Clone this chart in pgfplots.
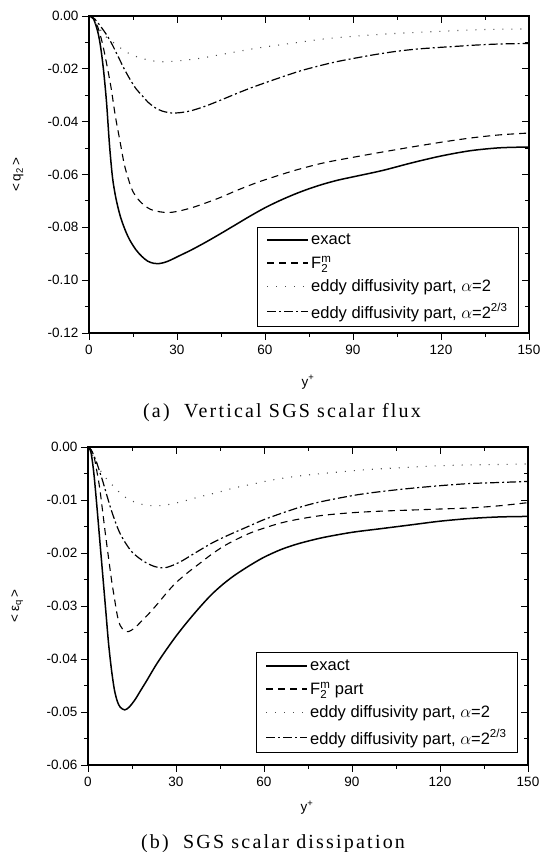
\documentclass[border=0pt]{standalone}
\usepackage{fontspec}
\setmainfont{Liberation Sans}
\setmathrm{Liberation Sans}
\newfontfamily\capfont[LetterSpace=11]{Liberation Serif}
\usepackage{pgfplots}
\pgfplotsset{compat=1.18}

\pgfplotsset{
  frame/.style={scale only axis, width=440pt, height=317pt, xmin=0, xmax=150,
    xtick={0,30,60,90,120,150}, minor x tick num=1, minor y tick num=1,
    scaled x ticks=false, scaled y ticks=false,
    axis line style={line width=1.2pt},
    major tick length=7pt, minor tick length=4pt,
    every tick/.style={black, line width=0.9pt}},
  lower/.style={frame, tick align=outside, xtick pos=left, ytick pos=left,
    tick label style={font=\fontsize{13.5}{13.5}\selectfont},
    /pgf/number format/assume math mode=true,
    yticklabel style={/pgf/number format/fixed, /pgf/number format/fixed zerofill, /pgf/number format/precision=2},
    xticklabel style={yshift=-2pt},
    label style={font=\fontsize{13.5}{13.5}\selectfont},
    legend image code/.code={\draw[##1] (0pt,0pt) -- (35pt,0pt); \path (0pt,0pt) -- (41pt,0pt);},
  },
  upper/.style={frame, tick align=inside, xtick pos=right, ytick pos=right, xticklabels={}, yticklabels={}},
  lgd/.style={legend style={at={(rel axis cs:0.977,#1)}, anchor=south east, draw=black, line width=0.7pt,
    fill=white, font=\fontsize{16.5}{16.5}\selectfont, cells={anchor=west}, row sep=6pt,
    inner xsep=9pt, inner ysep=5pt}},
  exact/.style={black, line width=1.5pt, smooth},
  fm/.style={black, line width=1.1pt, dash pattern=on 7pt off 5pt, smooth},
  edtwo/.style={black!70, line width=1.1pt, dash pattern=on 1pt off 8pt, smooth},
  edtt/.style={black, line width=1.2pt, dash pattern=on 9pt off 3pt on 2pt off 3pt, smooth},
}
\newcommand{\Fm}{$\mathrm{F}_{\mathrm{2}}^{\mathrm{m}}$}

\begin{document}
\begin{tikzpicture}
\path[use as bounding box] (0,0) rectangle (549pt,852pt);

% ---------------- (a) ----------------
\begin{axis}[lower, lgd=0.019, at={(89pt,519pt)}, anchor=south west,
  ymin=-0.12, ymax=0, ytick={-0.12,-0.1,-0.08,-0.06,-0.04,-0.02,0},
  xlabel={y\textsuperscript{+}}, ylabel={<\,q\textsubscript{2}\,>},
  xlabel style={at={(axis description cs:0.498,-0.155)}, anchor=center},
  ylabel style={at={(axis description cs:-0.161,0.5)}, anchor=center},
]
\addplot[exact] coordinates {
(0,0) (1.5,-0.001) (3,-0.006) (4,-0.012) (5,-0.021) (6,-0.033) (7,-0.049) (8,-0.061)
(9,-0.068) (10,-0.073) (11,-0.077) (12.5,-0.0815) (14,-0.085) (16,-0.0885) (18,-0.091)
(20,-0.0928) (22,-0.0936) (24,-0.0937) (26,-0.0932) (28,-0.0923) (30,-0.0912)
(35,-0.0885) (40,-0.0855) (45,-0.0823) (50,-0.0790) (55,-0.0757) (60,-0.0726)
(65,-0.0699) (70,-0.0675) (75,-0.0654) (80,-0.0636) (85,-0.0621) (90,-0.0609)
(100,-0.0585) (110,-0.0556) (120,-0.0530) (130,-0.0510) (140,-0.0499) (150,-0.0496)};
\addlegendentry{exact}
\addplot[fm] coordinates {
(0,0) (1.5,-0.001) (3,-0.0042) (4.5,-0.010) (6,-0.018) (7.5,-0.027) (9,-0.038)
(10.5,-0.047) (12,-0.056) (13.5,-0.062) (15,-0.0665) (17,-0.0697) (19,-0.0718)
(21,-0.0732) (24,-0.0741) (27,-0.0744) (30,-0.0740) (35,-0.0726) (40,-0.0707)
(45,-0.0686) (50,-0.0662) (55,-0.0640) (60,-0.0620) (70,-0.0585) (80,-0.0556)
(90,-0.0535) (100,-0.0515) (110,-0.0496) (120,-0.0478) (130,-0.0462) (140,-0.0450) (150,-0.0443)};
\addlegendentry{\Fm}
\addplot[edtwo] coordinates {
(0,0) (2,-0.0025) (3.5,-0.0045) (5,-0.0070) (7,-0.0090) (9.5,-0.0110) (12.5,-0.0135)
(16,-0.0153) (20,-0.0166) (24,-0.0173) (28,-0.0172) (33,-0.0167) (38,-0.0160)
(44,-0.0148) (50,-0.0136) (56,-0.0124) (62,-0.0114) (70,-0.0102) (80,-0.0087)
(90,-0.0077) (100,-0.0069) (110,-0.0063) (120,-0.0058) (130,-0.0053) (140,-0.0050) (150,-0.0049)};
\addlegendentry{eddy diffusivity part, $\alpha$=2}
\addplot[edtt] coordinates {
(0,0) (1,-0.0003) (2,-0.0012) (3,-0.0025) (4,-0.0040) (5,-0.0055) (6.5,-0.0080)
(8,-0.0110) (10,-0.0155) (12,-0.0200) (14,-0.0240) (16,-0.0275) (18,-0.0300)
(20,-0.0325) (22.5,-0.0347) (25,-0.0360) (28,-0.0367) (31,-0.0366) (35,-0.0358)
(40,-0.0340) (45,-0.0318) (50,-0.0295) (55,-0.0273) (60,-0.0253) (66,-0.0230)
(72,-0.0208) (78,-0.0190) (84,-0.0174) (90,-0.0161) (97,-0.0147) (104,-0.0135)
(111,-0.0126) (118,-0.0120) (125,-0.0115) (132,-0.0110) (140,-0.0106) (150,-0.0104)};
\addlegendentry{eddy diffusivity part, $\alpha$=2\textsuperscript{2/3}}
\end{axis}
\begin{axis}[upper, at={(89pt,519pt)}, anchor=south west,
  ymin=-0.12, ymax=0, ytick={-0.12,-0.1,-0.08,-0.06,-0.04,-0.02,0}]
\end{axis}
\node[anchor=base, font=\capfont\fontsize{20}{20}\selectfont] at (282pt,434pt) {(a)\ \ Vertical SGS scalar flux};

% ---------------- (b) ----------------
\begin{axis}[lower, lgd=0.038, at={(88pt,87pt)}, anchor=south west, height=318pt,
  ymin=-0.06, ymax=0, ytick={-0.06,-0.05,-0.04,-0.03,-0.02,-0.01,0},
  xlabel={y\textsuperscript{+}}, ylabel={<\,ε\textsubscript{q}\,>},
  xlabel style={at={(axis description cs:0.498,-0.135)}, anchor=center},
  ylabel style={at={(axis description cs:-0.161,0.5)}, anchor=center},
]
\addplot[exact] coordinates {
(0,0) (1,-0.001) (2,-0.005) (3,-0.011) (4,-0.0175) (5,-0.024) (6,-0.0305) (7,-0.037)
(8,-0.042) (9,-0.0458) (10,-0.048) (11,-0.0491) (12.5,-0.0496) (14,-0.0491) (16,-0.0477)
(18,-0.0459) (20,-0.0441) (23,-0.0413) (26,-0.0388) (30,-0.0357) (34,-0.0329)
(38,-0.0303) (42,-0.0279) (46,-0.0259) (50,-0.0242) (55,-0.0224) (60,-0.0208)
(66,-0.0193) (72,-0.0182) (80,-0.0171) (90,-0.0161) (100,-0.0154) (110,-0.0147)
(120,-0.0140) (130,-0.0135) (140,-0.0132) (150,-0.0131)};
\addlegendentry{exact}
\addplot[fm] coordinates {
(0,0) (1,-0.0005) (2,-0.0017) (3,-0.0045) (4,-0.0078) (5,-0.0122) (6,-0.0167)
(7,-0.0209) (8,-0.0250) (9,-0.0285) (10,-0.0318) (11,-0.0337) (12.5,-0.0347)
(14,-0.0348) (16,-0.0341) (18,-0.0330) (21,-0.0313) (24,-0.0294) (27,-0.0274)
(30,-0.0256) (34,-0.0237) (38,-0.0220) (42,-0.0203) (46,-0.0188) (50,-0.0176)
(55,-0.0163) (60,-0.0153) (66,-0.0143) (72,-0.0136) (80,-0.0129) (90,-0.0124)
(100,-0.0121) (110,-0.0119) (120,-0.0117) (130,-0.0115) (140,-0.0111) (150,-0.0105)};
\addlegendentry{\Fm\ part}
\addplot[edtwo] coordinates {
(0,0) (2,-0.002) (4,-0.0042) (6,-0.0058) (8.5,-0.0073) (11,-0.0087) (13,-0.0096)
(15.5,-0.0103) (19,-0.0109) (23,-0.0111) (27,-0.0109) (32,-0.0103) (38,-0.0094)
(44,-0.0086) (50,-0.0077) (57,-0.0069) (62,-0.0063) (70,-0.0056) (78,-0.0051)
(86,-0.0047) (92,-0.0044) (100,-0.0041) (107,-0.0039) (117,-0.0036) (128,-0.0034)
(140,-0.0033) (150,-0.0032)};
\addlegendentry{eddy diffusivity part, $\alpha$=2}
\addplot[edtt] coordinates {
(0,0) (1,-0.0005) (2,-0.0016) (3,-0.0030) (4,-0.0047) (5,-0.0064) (6,-0.0083)
(7,-0.0102) (8,-0.0120) (9.5,-0.0144) (11,-0.0164) (13,-0.0183) (15,-0.0198)
(17.5,-0.0210) (20,-0.0219) (23,-0.0226) (26,-0.0228) (29,-0.0223) (32,-0.0215)
(35,-0.0205) (38,-0.0195) (42,-0.0182) (46,-0.0171) (50,-0.0161) (55,-0.0149)
(60,-0.0137) (66,-0.0125) (72,-0.0114) (78,-0.0105) (85,-0.0097) (92,-0.0090)
(100,-0.0084) (110,-0.0078) (120,-0.0073) (130,-0.0069) (140,-0.0067) (150,-0.0065)};
\addlegendentry{eddy diffusivity part, $\alpha$=2\textsuperscript{2/3}}
\end{axis}
\begin{axis}[upper, at={(88pt,87pt)}, anchor=south west, height=318pt,
  ymin=-0.06, ymax=0, ytick={-0.06,-0.05,-0.04,-0.03,-0.02,-0.01,0}]
\end{axis}
\node[anchor=base, font=\capfont\fontsize{20}{20}\selectfont] at (273pt,4pt) {(b)\ \ SGS scalar dissipation};
\end{tikzpicture}
\end{document}
